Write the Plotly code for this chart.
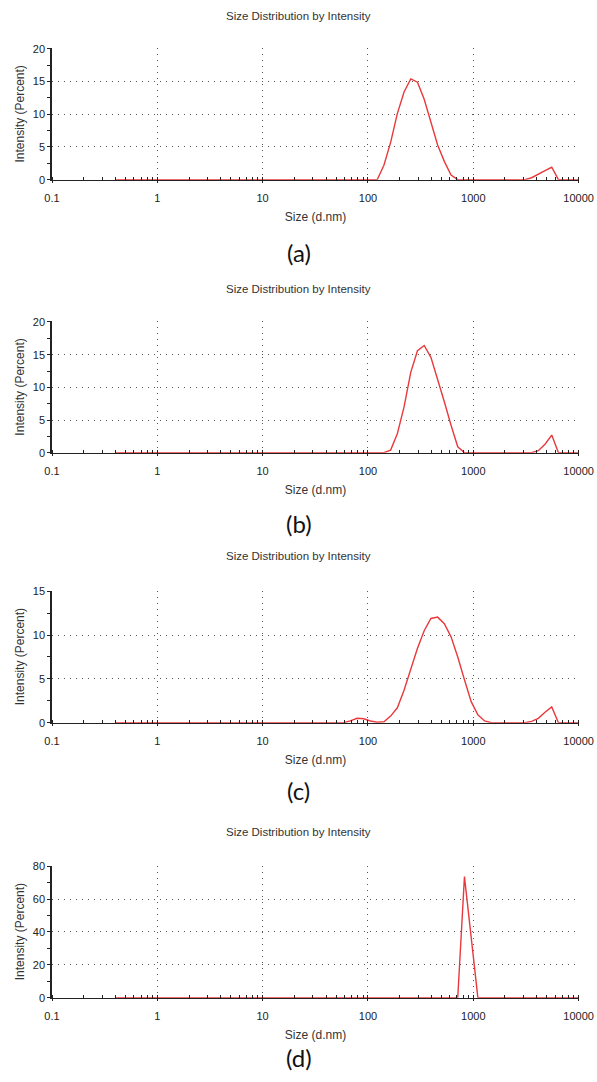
import plotly.graph_objects as go

# Size classes (d.nm) of the instrument
sizes = [0.4, 0.4632, 0.5365, 0.6213, 0.7195, 0.8332, 0.9649, 1.117, 1.294, 1.499,
         1.736, 2.01, 2.328, 2.696, 3.122, 3.615, 4.187, 4.849, 5.615, 6.503,
         7.531, 8.721, 10.1, 11.7, 13.54, 15.69, 18.17, 21.04, 24.36, 28.21,
         32.67, 37.84, 43.82, 50.75, 58.77, 68.06, 78.82, 91.28, 105.7, 122.4,
         141.8, 164.2, 190.1, 220.2, 255.0, 295.3, 342.0, 396.1, 458.7, 531.2,
         615.1, 712.4, 825.0, 955.4, 1106, 1281, 1484, 1718, 1990, 2305,
         2669, 3091, 3580, 4145, 4801, 5560, 6439, 7456, 8635, 10000]

intensity_a = [0, 0, 0, 0, 0, 0, 0, 0, 0, 0,
               0, 0, 0, 0, 0, 0, 0, 0, 0, 0,
               0, 0, 0, 0, 0, 0, 0, 0, 0, 0,
               0, 0, 0, 0, 0, 0, 0, 0, 0, 0,
               2.2, 5.7, 10.1, 13.4, 15.4, 14.9, 12.3, 8.9, 5.3, 2.8,
               0.7, 0, 0, 0, 0, 0, 0, 0, 0, 0,
               0, 0, 0.3, 0.9, 1.4, 1.9, 0, 0, 0, 0]

intensity_b = [0, 0, 0, 0, 0, 0, 0, 0, 0, 0,
               0, 0, 0, 0, 0, 0, 0, 0, 0, 0,
               0, 0, 0, 0, 0, 0, 0, 0, 0, 0,
               0, 0, 0, 0, 0, 0, 0, 0, 0, 0,
               0, 0.4, 2.9, 7.0, 12.3, 15.6, 16.4, 14.6, 11.3, 7.8,
               4.2, 0.9, 0, 0, 0, 0, 0, 0, 0, 0,
               0, 0, 0, 0.3, 1.3, 2.7, 0, 0, 0, 0]

intensity_c = [0, 0, 0, 0, 0, 0, 0, 0, 0, 0,
               0, 0, 0, 0, 0, 0, 0, 0, 0, 0,
               0, 0, 0, 0, 0, 0, 0, 0, 0, 0,
               0, 0, 0, 0, 0, 0.2, 0.5, 0.45, 0.2, 0.05,
               0.1, 0.75, 1.7, 3.7, 6.0, 8.5, 10.5, 11.9, 12.05, 11.3,
               9.8, 7.5, 4.9, 2.4, 0.9, 0.2, 0, 0, 0, 0,
               0, 0, 0.15, 0.5, 1.2, 1.8, 0, 0, 0, 0]

intensity_d = [0, 0, 0, 0, 0, 0, 0, 0, 0, 0,
               0, 0, 0, 0, 0, 0, 0, 0, 0, 0,
               0, 0, 0, 0, 0, 0, 0, 0, 0, 0,
               0, 0, 0, 0, 0, 0, 0, 0, 0, 0,
               0, 0, 0, 0, 0, 0, 0, 0, 0, 0,
               0, 0, 73.7, 35.0, 0, 0, 0, 0, 0, 0,
               0, 0, 0, 0, 0, 0, 0, 0, 0, 0]

panel_labels = ["(a)", "(b)", "(c)", "(d)"]
chart_title = "Size Distribution by Intensity"
x_title = "Size (d.nm)"
y_title = "Intensity (Percent)"
x_tickvals = [0.1, 1, 10, 100, 1000, 10000]
x_ticktext = ["0.1", "1", "10", "100", "1000", "10000"]
y_max = [20, 20, 15, 80]
y_major = [5, 5, 5, 20]
series = [intensity_a, intensity_b, intensity_c, intensity_d]

W, H = 597, 1082
# pixel positions (top, bottom) of each plot area
plot_px = [(48.0, 179.7), (321.2, 452.7), (590.5, 722.7), (865.5, 997.7)]
title_px = [16, 289, 556, 832]
label_px = [253, 523, 790, 1057]
x_left, x_right = 52, 579

FONT = "Liberation Sans, Arial, sans-serif"
RED = "#e8393c"
GRID = "#555555"

fig = go.Figure()
annotations = []
layout = dict(
    width=W, height=H, autosize=False,
    margin=dict(l=0, r=0, t=0, b=0),
    paper_bgcolor="white", plot_bgcolor="white",
    showlegend=False,
    font=dict(family=FONT, color="#222"),
)

for i in range(4):
    n = "" if i == 0 else str(i + 1)
    top, bot = plot_px[i]
    fig.add_trace(go.Scatter(
        x=sizes, y=series[i], mode="lines",
        line=dict(color=RED, width=1.4),
        xaxis="x" + n, yaxis="y" + n, hoverinfo="x+y",
        cliponaxis=False,
    ))
    layout["xaxis" + n] = dict(
        type="log", range=[-1, 4.004],
        domain=[x_left / W, x_right / W],
        anchor="y" + n, automargin=False,
        tickmode="array", tickvals=x_tickvals, ticktext=x_ticktext,
        ticks="outside", ticklen=2, tickcolor="#222", tickwidth=1,
        ticklabelstandoff=6,
        tickfont=dict(size=11, family=FONT, color="#222"),
        showline=True, linecolor="#222", linewidth=1.3,
        showgrid=True, gridcolor=GRID, gridwidth=1, griddash="1px,5px",
        zeroline=False,
        minor=dict(dtick="D1", ticks="inside", ticklen=3, tickcolor="#222",
                   showgrid=False),
        title=dict(text=x_title, font=dict(size=12, family=FONT, color="#333"),
                   standoff=9),
    )
    layout["yaxis" + n] = dict(
        range=[0, y_max[i] * 1.006],
        domain=[1 - bot / H, 1 - top / H],
        anchor="x" + n, automargin=False,
        tickmode="linear", tick0=0, dtick=y_major[i],
        ticks="outside", ticklen=3, tickcolor="#222",
        tickfont=dict(size=11, family=FONT, color="#222"),
        showline=True, linecolor="#222", linewidth=1.5,
        showgrid=True, gridcolor=GRID, gridwidth=1, griddash="1px,5px",
        zeroline=False,
        minor=dict(dtick=y_major[i] / 2, ticks="outside", ticklen=3,
                   tickcolor="#222", showgrid=False),
        title=dict(text=y_title, font=dict(size=12, family=FONT, color="#333"),
                   standoff=6),
    )
    annotations.append(dict(
        text=chart_title, xref="paper", yref="paper",
        x=0.5, y=1 - title_px[i] / H, xanchor="center", yanchor="middle",
        showarrow=False, font=dict(size=11.5, family=FONT, color="#333"),
    ))
    annotations.append(dict(
        text=panel_labels[i], xref="paper", yref="paper",
        x=0.5, y=1 - label_px[i] / H, xanchor="center", yanchor="middle",
        showarrow=False, font=dict(size=24, family="Lato, Open Sans, sans-serif",
                                   color="#111"),
    ))

layout["annotations"] = annotations
fig.update_layout(**layout)
fig.write_html(
    "out.html",
    config={"displayModeBar": False},
    post_script="document.body.style.margin='0';document.body.style.overflow='hidden';",
)
